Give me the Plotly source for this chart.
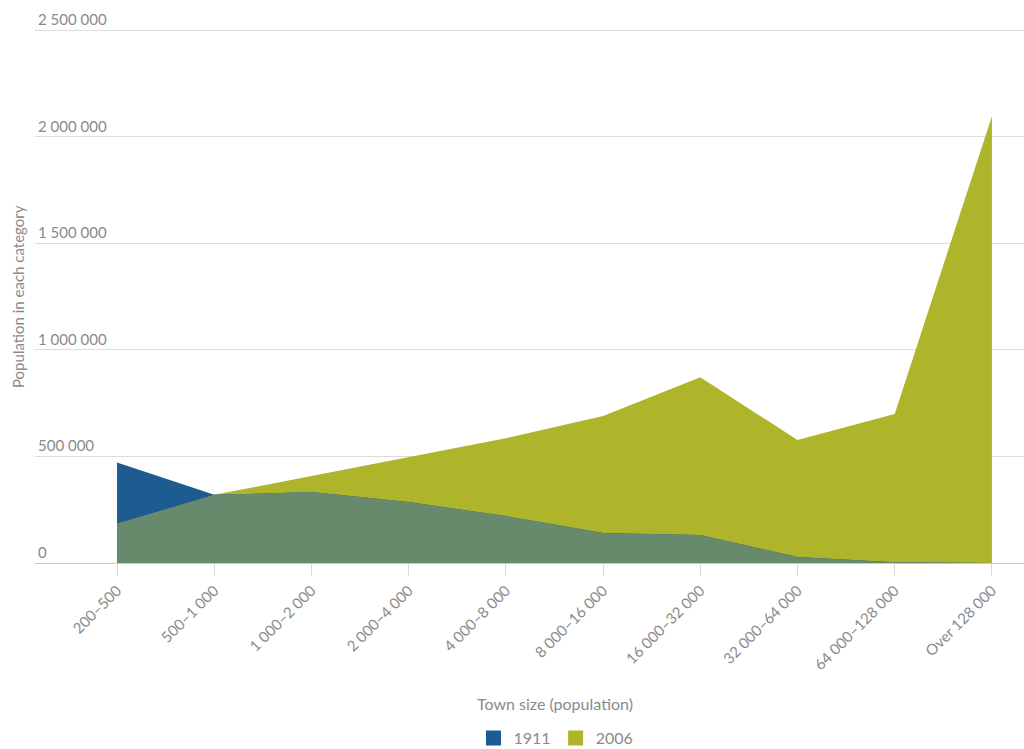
import plotly.graph_objects as go

categories = ["200–500", "500–1 000", "1 000–2 000", "2 000–4 000", "4 000–8 000",
              "8 000–16 000", "16 000–32 000", "32 000–64 000", "64 000–128 000", "Over 128 000"]
pop_1911 = [472000, 320000, 333000, 286000, 220000, 141000, 131000, 28000, 3000, 0]
pop_2006 = [185000, 320000, 408000, 497000, 586000, 690000, 872000, 577000, 699000, 2097000]
y_ticks = [0, 500000, 1000000, 1500000, 2000000, 2500000]
y_tick_text = ["0", "500 000", "1 000 000", "1 500 000", "2 000 000", "2 500 000"]

BLUE = "#1d5b90"
GREEN = "#afb52b"
OVERLAP = "#678a6d"
GREY = "#8a8a8a"
FONT = "Lato"

L, R, T, B = 35, 0, 9, 186
W, H = 1024, 749
pw = W - L - R
ph = H - T - B


def px_x(px):
    return (px - L) / pw


def px_y(py):
    return (H - B - py) / ph


x = list(range(len(categories)))
overlap = [min(a, b) for a, b in zip(pop_1911, pop_2006)]

fig = go.Figure()
fig.add_trace(go.Scatter(x=x, y=pop_2006, fill="tozeroy", mode="lines",
                         line=dict(width=0, color=GREEN), fillcolor=GREEN,
                         showlegend=False, hoverinfo="skip"))
fig.add_trace(go.Scatter(x=x, y=pop_1911, fill="tozeroy", mode="lines",
                         line=dict(width=0, color=BLUE), fillcolor=BLUE,
                         showlegend=False, hoverinfo="skip"))
fig.add_trace(go.Scatter(x=x, y=overlap, fill="tozeroy", mode="lines",
                         line=dict(width=0, color=OVERLAP), fillcolor=OVERLAP,
                         showlegend=False, hoverinfo="skip"))
# legend entries
fig.add_trace(go.Scatter(x=[None], y=[None], mode="markers", name="1911",
                         marker=dict(symbol="square", size=15, color=BLUE)))
fig.add_trace(go.Scatter(x=[None], y=[None], mode="markers", name="2006",
                         marker=dict(symbol="square", size=15, color=GREEN)))

fig.update_layout(
    width=W, height=H,
    margin=dict(l=L, r=R, t=T, b=B, autoexpand=False),
    paper_bgcolor="white", plot_bgcolor="white",
    font=dict(family=FONT, color=GREY, size=14),
    showlegend=True,
    legend=dict(orientation="h", x=px_x(556), xanchor="center",
                y=px_y(738), yanchor="middle", font=dict(size=16, color=GREY),
                traceorder="normal", itemwidth=30),
    xaxis=dict(range=[-0.844, 9.33], tickmode="array", tickvals=x, ticktext=categories,
               tickangle=-45, showgrid=False, zeroline=False, automargin=False,
               showline=True, linecolor="#c8c8c8", linewidth=1,
               ticks="outside", ticklen=12, tickcolor="#d8d8d8", tickwidth=1,
               tickfont=dict(size=15, color=GREY)),
    yaxis=dict(range=[0, 2600000], tickmode="array", tickvals=y_ticks, ticktext=y_tick_text,
               ticklabelposition="inside top", showgrid=True, gridcolor="#dcdcdc", gridwidth=1,
               zeroline=False, showline=False, automargin=False,
               tickfont=dict(size=15, color=GREY)),
)

fig.add_annotation(text="Town size (population)", x=px_x(555), xref="paper",
                   y=px_y(703), yref="paper", yanchor="middle",
                   showarrow=False, font=dict(size=16, color=GREY))
fig.add_annotation(text="Population in each category", x=px_x(18), xref="paper",
                   y=px_y(297), yref="paper", xanchor="center", yanchor="middle",
                   textangle=-90, showarrow=False, font=dict(size=15, color=GREY))

fig.write_html("out.html", config={"displayModeBar": False},
               post_script="document.body.style.margin='0';document.body.style.overflow='hidden';")
